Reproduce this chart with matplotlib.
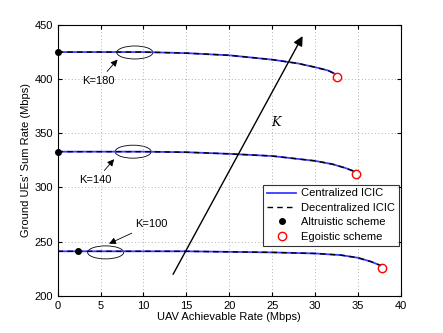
import matplotlib
matplotlib.use("Agg")
import matplotlib.pyplot as plt
from matplotlib.patches import Ellipse

plt.rcParams['font.family'] = ['Liberation Sans', 'DejaVu Sans']

# curves (UAV rate in Mbps, ground sum rate in Mbps)
x_180 = [0, 5, 10, 15, 20, 25, 28, 30, 31.5, 32.3]
y_180 = [425, 425, 425, 424, 422, 418, 414.5, 411, 408, 405]
x_140 = [0, 5, 10, 15, 20, 25, 30, 32, 33.5, 34.5]
y_140 = [333, 333, 333, 332.5, 331, 329, 324.5, 321.5, 318, 315]
x_100 = [0, 5, 10, 15, 20, 25, 30, 33, 35, 36.5, 37.6]
y_100 = [241, 241, 241, 241, 240.5, 240, 239, 237.5, 235, 231.5, 228]

altruistic_x = [0, 0, 2.4]
altruistic_y = [425, 333, 241]
egoistic_x = [32.6, 34.8, 37.8]
egoistic_y = [402, 312, 226]

fig, ax = plt.subplots(figsize=(4.43, 3.33), dpi=100)
fig.subplots_adjust(left=0.13, right=0.905, bottom=0.112, top=0.925)

for xs, ys in [(x_180, y_180), (x_140, y_140), (x_100, y_100)]:
    ax.plot(xs, ys, color="#3c3cff", lw=1.3)
    ax.plot(xs, ys, color="black", lw=1.0, ls=(0, (4, 3)))

ax.plot(altruistic_x, altruistic_y, "k.", ms=8, clip_on=False, zorder=5)
ax.plot(egoistic_x, egoistic_y, "o", mfc="none", mec="red", ms=6, zorder=5)

# legend proxies
ax.plot([], [], color="#3c3cff", lw=1.3, label="Centralized ICIC")
ax.plot([], [], color="black", lw=1.0, ls=(0, (4, 3)), label="Decentralized ICIC")
ax.plot([], [], "k.", ms=8, label="Altruistic scheme")
ax.plot([], [], "o", mfc="none", mec="red", ms=6, label="Egoistic scheme")
handles, labels = ax.get_legend_handles_labels()
leg = ax.legend(handles[-4:], labels[-4:], loc="lower right",
                bbox_to_anchor=(0.993, 0.185), fontsize=8, frameon=True,
                fancybox=False, edgecolor="black", handlelength=2.6,
                handletextpad=0.4, borderpad=0.35, labelspacing=0.4,
                borderaxespad=0)
leg.get_frame().set_linewidth(0.8)

for cx, cy in [(9.0, 424.6), (8.8, 333), (5.6, 240)]:
    ax.add_patch(Ellipse((cx, cy), 4.2, 12, fill=False, ec="black", lw=0.6))

arrow = dict(arrowstyle="-|>", color="black", lw=0.6, mutation_scale=10)
ax.annotate("K=180", xy=(7.2, 420), xytext=(4.75, 398), fontsize=8,
            ha="center", va="center", arrowprops=arrow)
ax.annotate("K=140", xy=(6.8, 328), xytext=(4.45, 306.5), fontsize=8,
            ha="center", va="center", arrowprops=arrow)
ax.annotate("K=100", xy=(5.7, 247), xytext=(10.9, 266), fontsize=8,
            ha="center", va="center", arrowprops=arrow)
ax.annotate("", xy=(28.7, 442), xytext=(13.3, 217.5),
            arrowprops=dict(arrowstyle="-|>", color="black", lw=1.0,
                            mutation_scale=14))
ax.text(25.4, 360, "K", fontsize=9, style="italic", family="DejaVu Serif",
        ha="center", va="center")

ax.set_xlim(0, 40)
ax.set_ylim(200, 450)
ax.set_xticks(range(0, 41, 5))
ax.set_yticks(range(200, 451, 50))
ax.grid(True, ls=(0, (1, 3)), color="#999999", lw=0.6)
ax.tick_params(direction="in", top=True, right=True, labelsize=8, length=3)
ax.set_xlabel("UAV Achievable Rate (Mbps)", fontsize=8, labelpad=1)
ax.set_ylabel("Ground UEs' Sum Rate (Mbps)", fontsize=8, labelpad=2)
for s in ax.spines.values():
    s.set_linewidth(0.8)

fig.savefig("out.png", dpi=100)
